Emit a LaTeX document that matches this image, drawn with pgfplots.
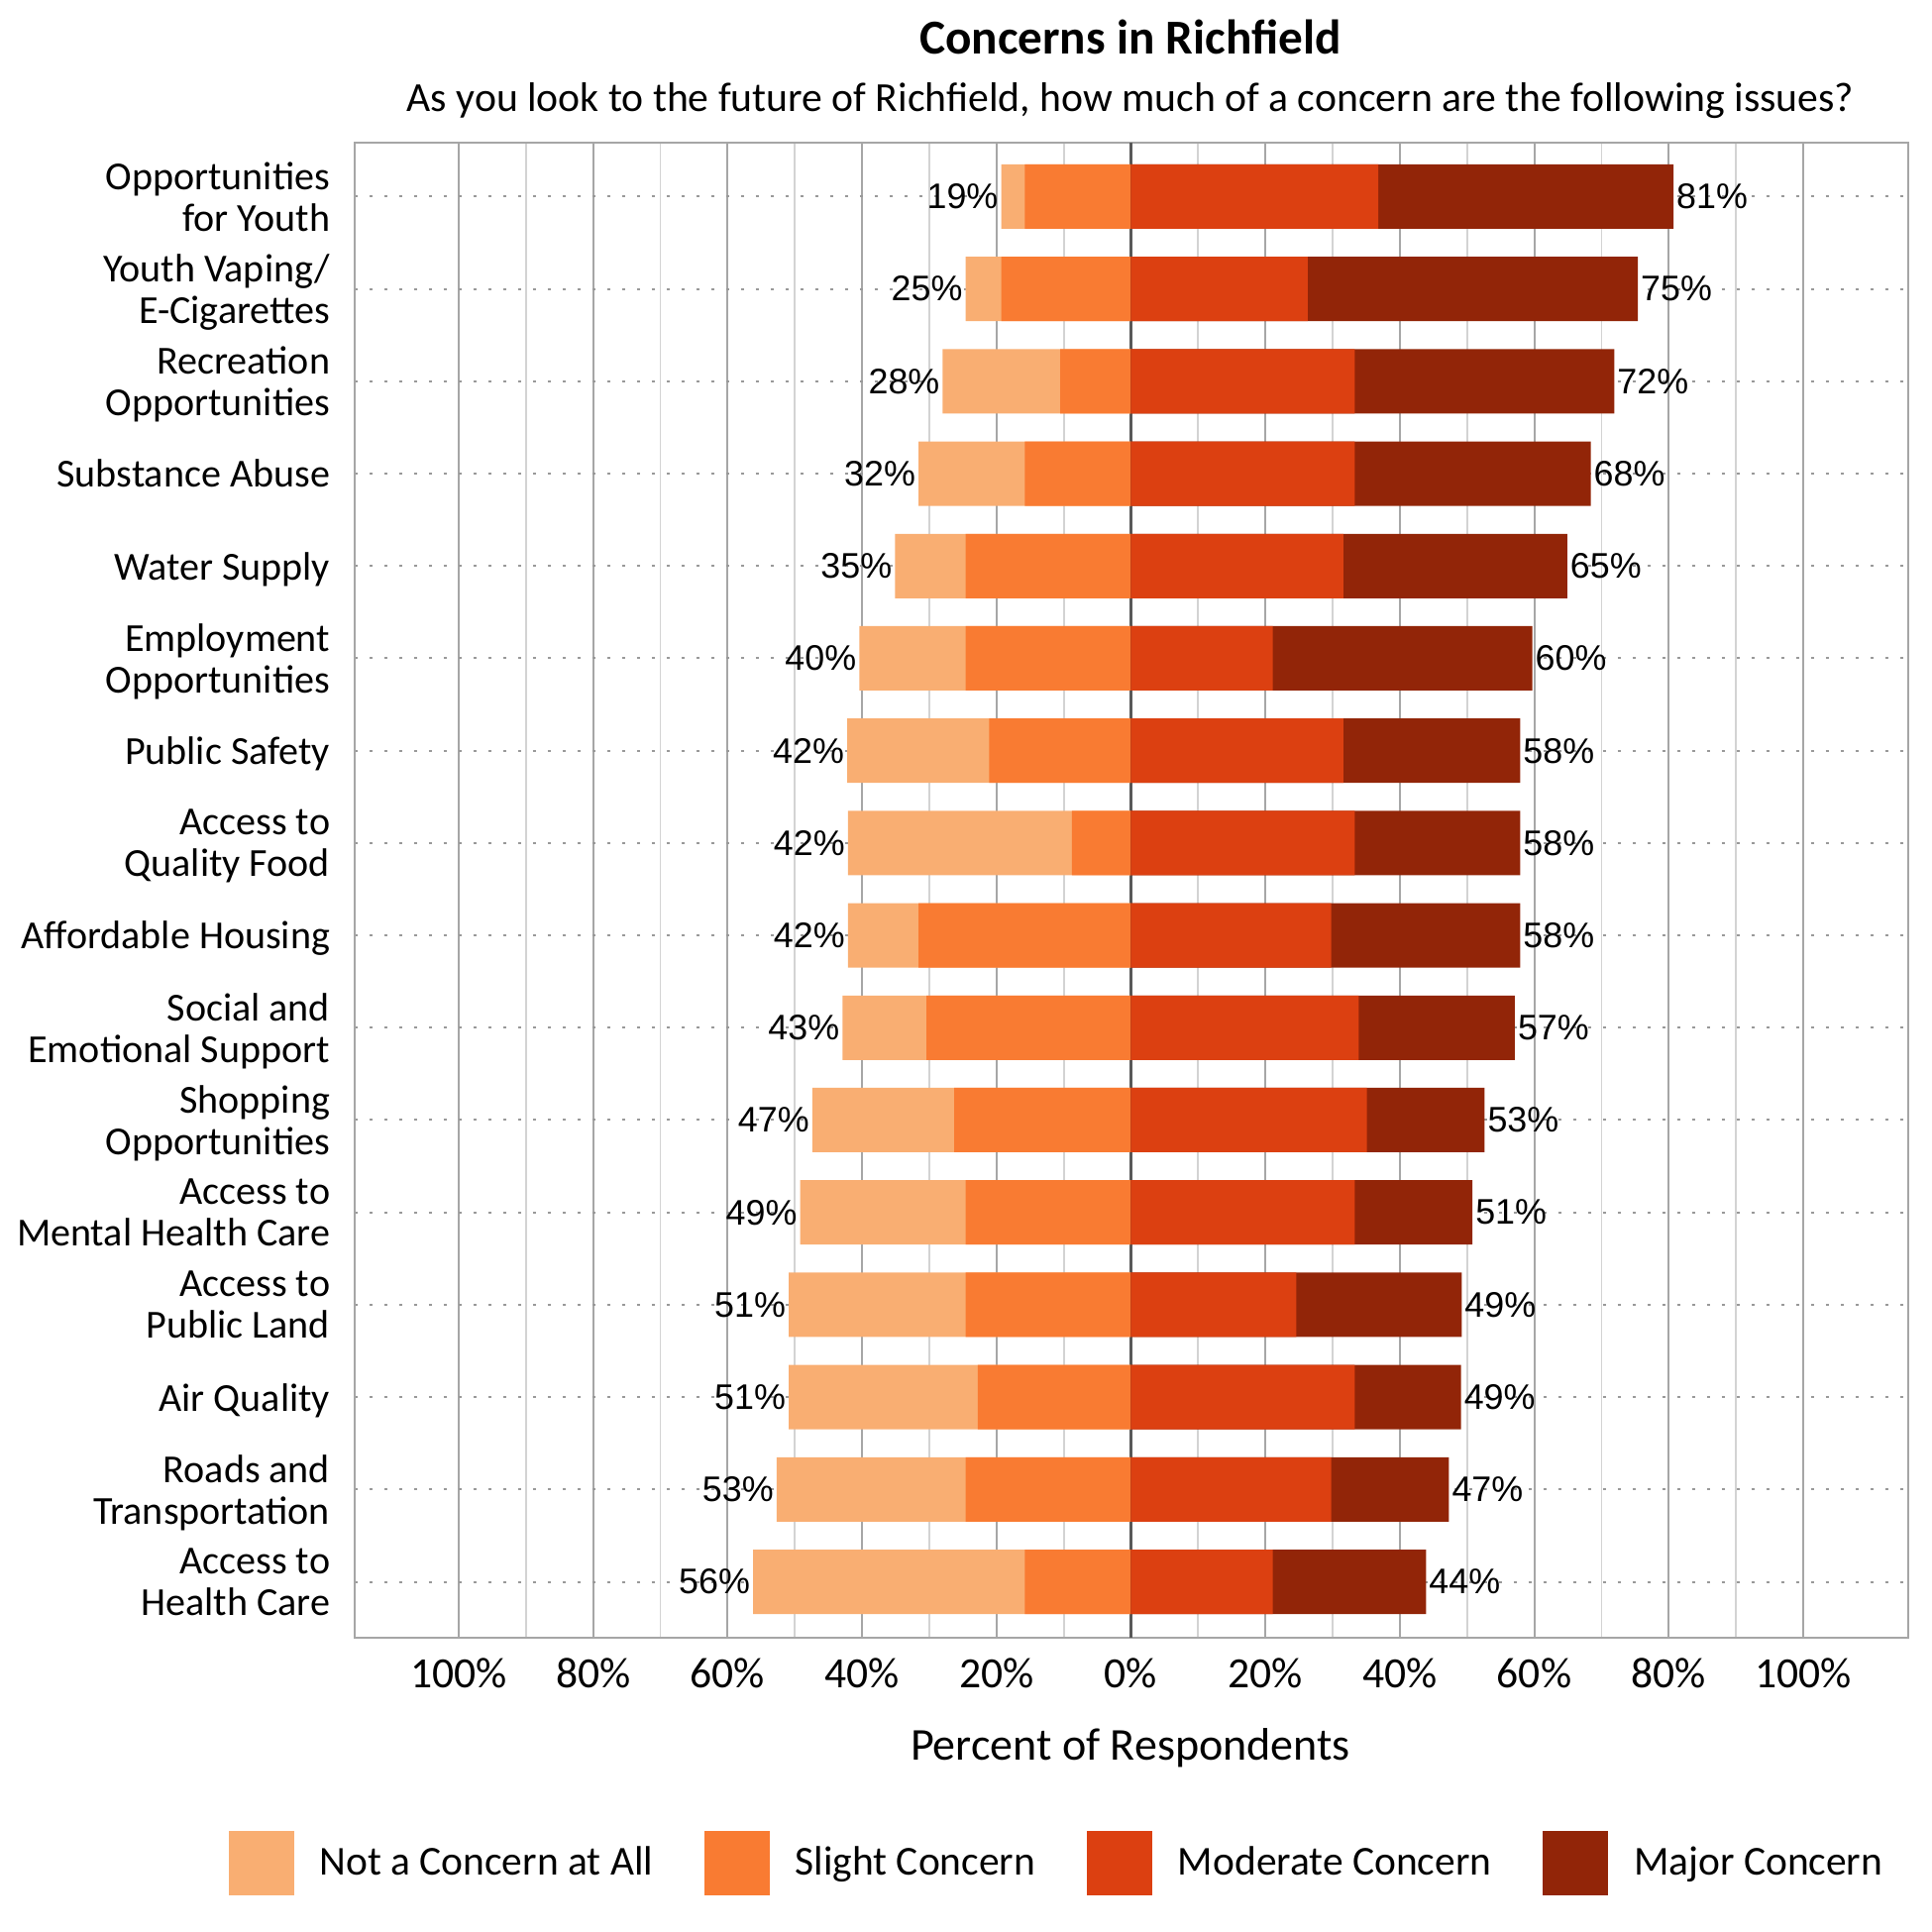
\documentclass[border=0pt]{standalone}
\usepackage{fontspec}
\setmainfont{Carlito}
\newfontfamily\arialfont{Liberation Sans}
\usepackage{pgfplots}
\usepackage{pgfplotstable}
\pgfplotsset{compat=1.18}

\definecolor{cNot}{HTML}{F9AE72}
\definecolor{cSlight}{HTML}{F97B32}
\definecolor{cModerate}{HTML}{DC4011}
\definecolor{cMajor}{HTML}{922508}
\definecolor{gridmaj}{HTML}{A6A6A6}
\definecolor{gridmin}{HTML}{D3D3D3}
\definecolor{zeroline}{HTML}{595959}

% percent of respondents per issue, rows top to bottom
\pgfplotstableread{
row notc slight moderate major
1  3.5  15.8 36.8 43.9
2  5.3  19.3 26.3 49.1
3  17.5 10.5 33.3 38.6
4  15.8 15.8 33.3 35.1
5  10.5 24.6 31.6 33.3
6  15.8 24.6 21.1 38.6
7  21.1 21.1 31.6 26.3
8  33.3 8.8  33.3 24.6
9  10.5 31.6 29.8 28.1
10 12.5 30.4 33.9 23.2
11 21.1 26.3 35.1 17.5
12 24.6 24.6 33.3 17.5
13 26.3 24.6 24.6 24.6
14 28.1 22.8 33.3 15.8
15 28.1 24.6 29.8 17.5
16 40.4 15.8 21.1 22.8
}\concerns

\begin{document}
\begin{tikzpicture}
\useasboundingbox (0,0) rectangle (195mm,195mm);
\begin{axis}[
  at={(35.78mm,29.73mm)}, anchor=south west,
  width=156.8mm, height=150.9mm, scale only axis,
  /pgf/number format/assume math mode=true,
  xbar, bar width=6.5mm,
  xmin=-115.5, xmax=115.6,
  ymin=0.413, ymax=16.603, y dir=reverse,
  axis line style={gridmaj, line width=0.18mm},
  tick style={draw=none},
  xtick={-100,-80,...,100},
  xticklabels={100\%,80\%,60\%,40\%,20\%,0\%,20\%,40\%,60\%,80\%,100\%},
  minor xtick={-90,-70,...,90},
  xmajorgrids, xminorgrids, ymajorgrids,
  major x grid style={gridmaj, line width=0.2mm},
  minor x grid style={gridmin, line width=0.18mm},
  major y grid style={gray!80, line width=0.2mm, dash pattern=on 0.35mm off 1.15mm},
  extra x ticks={0}, extra x tick labels={},
  extra x tick style={major x grid style={zeroline, line width=0.3mm}},
  xticklabel style={font=\fontsize{12.4}{14}\selectfont, anchor=base, yshift=-5.06mm, inner sep=0pt},
  ytick={1,...,16},
  yticklabels={{Opportunities\\for Youth},{Youth Vaping/\\E-Cigarettes},{Recreation\\Opportunities},
    Substance Abuse,Water Supply,{Employment\\Opportunities},Public Safety,{Access to\\Quality Food},
    Affordable Housing,{Social and\\Emotional Support},{Shopping\\Opportunities},
    {Access to\\Mental Health Care},{Access to\\Public Land},Air Quality,
    {Roads and\\Transportation},{Access to\\Health Care}},
  yticklabel style={font=\fontsize{11.4}{11.95}\selectfont, align=right, anchor=east,
    inner sep=0pt, xshift=-0.9mm, text depth=0pt},
  every axis plot/.append style={draw=none, bar shift=0pt},
  legend columns=4,
  legend image code/.code={\fill[#1] (0mm,-3.28mm) rectangle (6.57mm,3.28mm);},
  legend style={at={(-0.0814,-0.151)}, anchor=west, draw=none, fill=none,
    inner sep=0pt, font=\fontsize{11.8}{13}\selectfont,
    nodes={inner sep=0pt}, column sep=2.6mm,
    /tikz/every even column/.append style={column sep=5.2mm}},
]
% left side: outer bar = not + slight, inner bar = slight
\addplot[fill=cNot, forget plot, point meta=explicit,
  nodes near coords={\pgfmathprintnumber[fixed,precision=0]{\pgfplotspointmeta}\%},
  every node near coord/.append style={anchor=east, font=\arialfont\fontsize{10.2}{12}\selectfont, inner xsep=0.7pt}]
  table[x expr={-(\thisrow{notc}+\thisrow{slight})}, y=row, meta expr={\thisrow{notc}+\thisrow{slight}}] {\concerns};
\addplot[fill=cSlight, forget plot]
  table[x expr={-\thisrow{slight}}, y=row] {\concerns};
% right side: outer bar = moderate + major, inner bar = moderate
\addplot[fill=cMajor, forget plot, point meta=explicit,
  nodes near coords={\pgfmathprintnumber[fixed,precision=0]{\pgfplotspointmeta}\%},
  every node near coord/.append style={anchor=west, font=\arialfont\fontsize{10.2}{12}\selectfont, inner xsep=0.7pt}]
  table[x expr={\thisrow{moderate}+\thisrow{major}}, y=row, meta expr={\thisrow{moderate}+\thisrow{major}}] {\concerns};
\addplot[fill=cModerate, forget plot]
  table[x=moderate, y=row] {\concerns};

\addlegendimage{fill=cNot}
\addlegendentry{Not a Concern at All}
\addlegendimage{fill=cSlight}
\addlegendentry{Slight Concern}
\addlegendimage{fill=cModerate}
\addlegendentry{Moderate Concern}
\addlegendimage{fill=cMajor}
\addlegendentry{Major Concern}
\end{axis}
\node[anchor=base, font=\fontsize{14}{16}\selectfont\bfseries] at (114.1mm,189.5mm) {Concerns in Richfield};
\node[anchor=base, font=\fontsize{11.86}{13}\selectfont] at (114.1mm,183.77mm)
  {As you look to the future of Richfield, how much of a concern are the following issues?};
\node[anchor=base, font=\fontsize{13.1}{15}\selectfont] at (114.1mm,17.4mm) {Percent of Respondents};
\end{tikzpicture}
\end{document}
